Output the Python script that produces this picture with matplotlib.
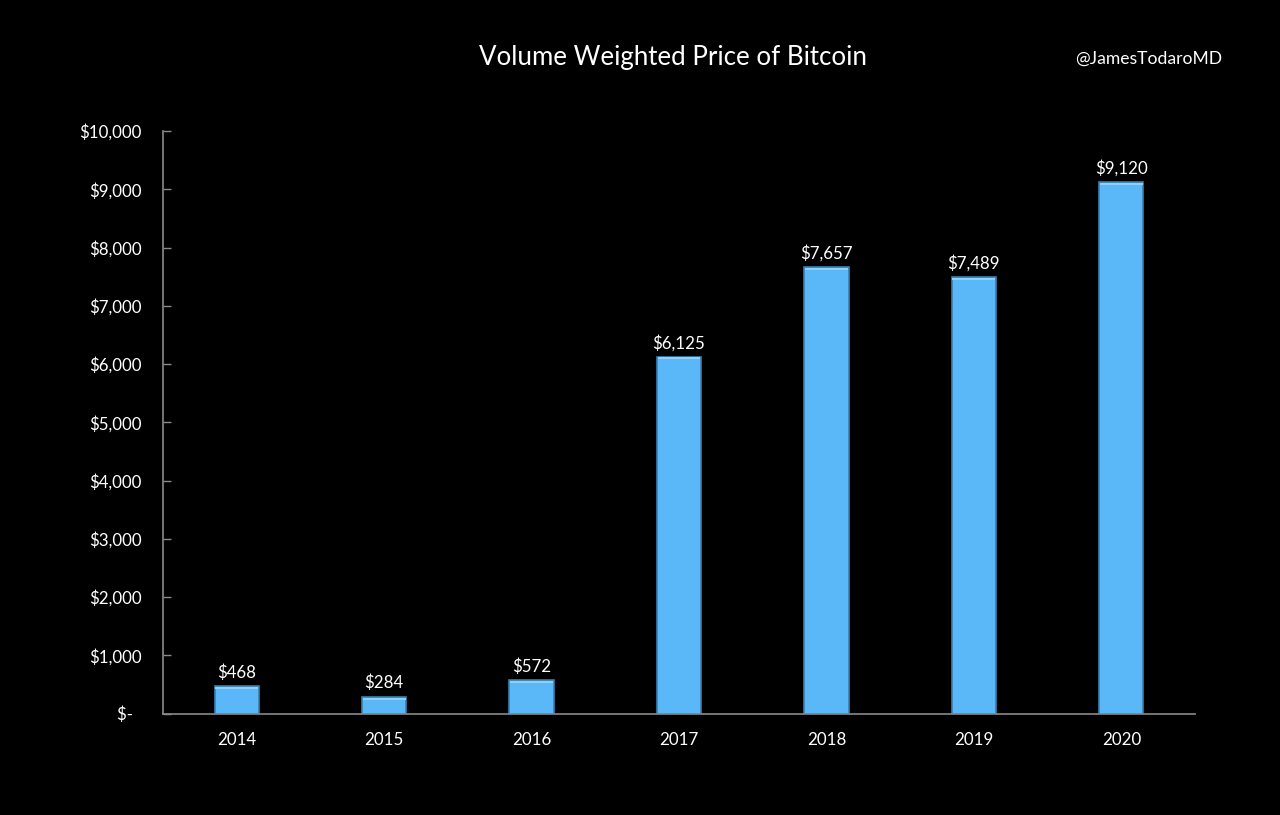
import matplotlib
matplotlib.use("Agg")
import matplotlib.pyplot as plt

years = ["2014", "2015", "2016", "2017", "2018", "2019", "2020"]
prices = [468, 284, 572, 6125, 7657, 7489, 9120]
yticks = [0, 1000, 2000, 3000, 4000, 5000, 6000, 7000, 8000, 9000, 10000]

plt.rcParams['font.family'] = ['Lato', 'DejaVu Sans']

W, H = 1280, 815
fig = plt.figure(figsize=(W / 100, H / 100), dpi=100, facecolor='black')
ax = fig.add_axes([163 / W, 1 - 713.5 / H, (1195 - 163) / W, (713.5 - 131) / H], facecolor='black')

xs = range(len(years))
bar_w = 0.3
ax.bar(xs, prices, width=bar_w, color='#5ab7f8', edgecolor='#3a7fae', linewidth=1.2, zorder=2)
# lighter strip along the top of each bar
ax.bar(xs, [35] * len(prices), bottom=[p - 45 for p in prices], width=bar_w - 0.01, color='#8fd0fa', linewidth=0, zorder=3)

for x, p in zip(xs, prices):
    ax.annotate(f"${p:,}", (x, p), xytext=(0, 4), textcoords='offset points',
                ha='center', va='bottom', color='white', fontsize=12.2)

ax.set_xlim(-0.5, 6.5)
ax.set_ylim(0, 10000)
ax.set_xticks(list(xs))
ax.set_xticklabels(years)
ax.set_yticks(yticks)
ax.set_yticklabels(["$-  "] + [f"${v:,}" for v in yticks[1:]])

ax.tick_params(axis='x', length=0, pad=13, labelcolor='white', labelsize=12.2)
ax.tick_params(axis='y', direction='in', length=6, width=1, color='#8a8a8a', pad=15.5,
               labelcolor='white', labelsize=12.2)

for side in ['top', 'right']:
    ax.spines[side].set_visible(False)
for side in ['left', 'bottom']:
    ax.spines[side].set_color('#8a8a8a')
    ax.spines[side].set_linewidth(1.2)

fig.text(673 / W, 1 - 57 / H, "Volume Weighted Price of Bitcoin", color='white',
         fontsize=18.6, ha='center', va='center')
fig.text(1222 / W, 1 - 59 / H, "@JamesTodaroMD", color='white',
         fontsize=12.6, ha='right', va='center')

fig.savefig("out.png", dpi=100, facecolor='black')
